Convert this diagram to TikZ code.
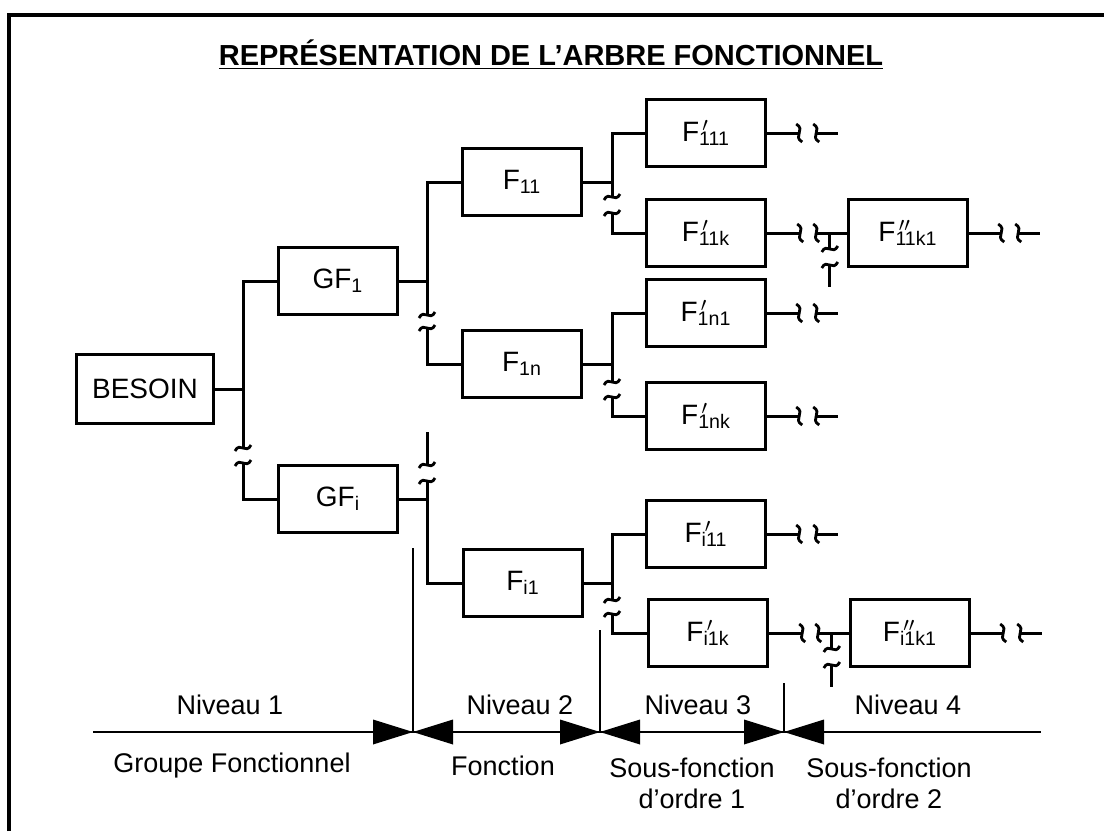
\documentclass[tikz,border=0pt]{standalone}
\usepackage{fontspec}
\setmainfont{Liberation Sans}
\newcommand{\pr}{$\prime$}
\newcommand{\prr}{$\prime\prime$}
\newcommand{\fsub}[2]{F\rlap{\textsuperscript{\,#2}}\textsubscript{#1}}

\begin{document}
\begin{tikzpicture}[x=0.5pt, y=-0.5pt,
  box/.style={draw, line width=1.7pt, minimum width=59.5pt, minimum height=33.5pt,
    inner sep=0pt, font=\fontsize{14}{16}\selectfont},
  wire/.style={line width=1.5pt},
  lvl/.style={font=\fontsize{13.5}{15.5}\selectfont, align=center},
  vbrk/.pic={\draw[line width=1.4pt] (-8,3) .. controls (-3,-7) and (3,7) .. (8,-3);},
  hbrk/.pic={\draw[line width=1.4pt] (-3,-9) .. controls (7,-3) and (-7,3) .. (3,9);}]
  \useasboundingbox (0,0) rectangle (1104,831);
  % frame and title
  \draw[line width=1.6pt] (9,831) -- (9,15) -- (1104,15);
  \node[font=\bfseries\fontsize{14.5}{17}\selectfont] (title) at (551,55)
    {\underline{REPRÉSENTATION DE L'ARBRE FONCTIONNEL}};
  % boxes
  \node[box, minimum width=68.5pt, minimum height=34.5pt] (besoin) at (145,389) {BESOIN};
  \node[box] (gf1) at (338,281) {GF\textsubscript{1}};
  \node[box] (gfi) at (338,499) {GF\textsubscript{i}};
  \node[box] (f11) at (522,182) {F\textsubscript{11}};
  \node[box] (f1n) at (522,364) {F\textsubscript{1n}};
  \node[box] (fi1) at (523,583) {F\textsubscript{i1}};
  \node[box] (fp111) at (706,133) {\fsub{111}{\pr}};
  \node[box] (fp11k) at (706,233) {\fsub{11k}{\pr}};
  \node[box] (fp1n1) at (706,313) {\fsub{1n1}{\pr}};
  \node[box] (fp1nk) at (706,416) {\fsub{1nk}{\pr}};
  \node[box] (fpi11) at (706,534) {\fsub{i11}{\pr}};
  \node[box] (fpi1k) at (708,633) {\fsub{i1k}{\pr}};
  \node[box] (fs11k1) at (908,233) {\fsub{11k1}{\prr}};
  \node[box] (fsi1k1) at (910,633) {\fsub{i1k1}{\prr}};
  % level 1 trunk
  \coordinate (ba1) at (243,448); \coordinate (bb1) at (243,463);
  \draw[wire] (gf1.west) -| (ba1);
  \draw[wire] (bb1) |- (gfi.west);
  \draw[wire] (besoin.east) -- (besoin.east -| ba1);
  % level 2 trunks
  \coordinate (ba2) at (427,315); \coordinate (bb2) at (427,328);
  \draw[wire] (f11.west) -| (ba2);
  \draw[wire] (bb2) |- (f1n.west);
  \draw[wire] (gf1.east) -- (gf1.east -| ba2);
  \coordinate (bt3) at (427,432);
  \coordinate (ba3) at (427,465); \coordinate (bb3) at (427,481);
  \draw[wire] (bt3) -- (ba3);
  \draw[wire] (bb3) |- (fi1.west);
  \draw[wire] (gfi.east) -- (gfi.east -| bb3);
  % level 3 trunks
  \coordinate (ba4) at (612,197); \coordinate (bb4) at (612,213);
  \draw[wire] (fp111.west) -| (ba4);
  \draw[wire] (bb4) |- (fp11k.west);
  \draw[wire] (f11.east) -- (f11.east -| ba4);
  \coordinate (ba5) at (612,382); \coordinate (bb5) at (612,397);
  \draw[wire] (fp1n1.west) -| (ba5);
  \draw[wire] (bb5) |- (fp1nk.west);
  \draw[wire] (f1n.east) -- (f1n.east -| ba5);
  \coordinate (ba6) at (612,600); \coordinate (bb6) at (612,614);
  \draw[wire] (fpi11.west) -| (ba6);
  \draw[wire] (bb6) |- (fpi1k.west);
  \draw[wire] (fi1.east) -- (fi1.east -| ba6);
  \foreach \c in {ba1,bb1,ba2,bb2,ba3,bb3,ba4,bb4,ba5,bb5,ba6,bb6}
    \pic at (\c) {vbrk};
  % level 4 joins
  \foreach \a/\b in {fp11k/fs11k1, fpi1k/fsi1k1} {
    \draw[wire] (\a.east) -- ++(33,0) coordinate (\a-c) pic {hbrk};
    \draw[wire] (\a-c) ++(16,0) pic {hbrk} -- (\b.west);
    \draw[wire] (\b.west) ++(-17,0) -- ++(0,16) pic {vbrk};
    \draw[wire] (\b.west) ++(-17,32) pic {vbrk} -- ++(0,22);
  }
  % open ends
  \foreach \n in {fp111,fp1n1,fp1nk,fpi11,fs11k1,fsi1k1} {
    \draw[wire] (\n.east) -- ++(32,0) pic {hbrk};
    \draw[wire] (\n.east) ++(49,0) pic {hbrk} -- ++(22,0);
  }
  % levels axis
  \coordinate (ax0) at (93,732); \coordinate (ax1) at (1041,732);
  \draw[line width=1.4pt] (ax0) -- (ax1);
  \coordinate (s1) at (413,548); \coordinate (s2) at (600,630); \coordinate (s3) at (784,683);
  \foreach \s in {s1,s2,s3} {
    \draw[line width=1pt] (\s) -- (\s |- ax0);
    \fill (\s |- ax0) -- ++(-40,-12.5) -- ++(0,25) -- cycle;
    \fill (\s |- ax0) -- ++(40,-12.5) -- ++(0,25) -- cycle;
  }
  \node[lvl] (n1) at (230,705) {Niveau 1};
  \node[lvl] (n2) at (520,705) {Niveau 2};
  \node[lvl] (n3) at (698,705) {Niveau 3};
  \node[lvl] (n4) at (908,705) {Niveau 4};
  \node[lvl] (g1) at (232,766) {Groupe Fonctionnel};
  \node[lvl] (g2) at (503,766) {Fonction};
  \node[lvl] (g3) at (692,783) {Sous-fonction\\d'ordre 1};
  \node[lvl] (g4) at (889,783) {Sous-fonction\\d'ordre 2};
\end{tikzpicture}
\end{document}
